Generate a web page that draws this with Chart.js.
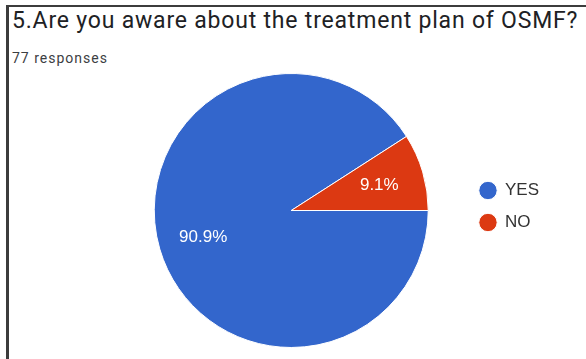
<!DOCTYPE html>
<html>
<head>
	<meta charset="UTF-8">
	<title>Treatment plan awareness</title>
	<script src="https://cdn.jsdelivr.net/npm/chart.js"></script>
	<style>
	html, body{margin:0; padding:0; background:#fff;}
	body{width:586px; height:359px; position:relative; overflow:hidden;}
	#frame{position:absolute; left:6px; top:5px; width:600px; height:400px;
		border-left:3px solid #3c3c3c; border-top:2px solid #3c3c3c;}
	#title{position:absolute; left:12px; top:9px; font-family:Roboto, Arial, sans-serif;
		font-size:23px; line-height:23px; letter-spacing:0.8px; color:#202124; white-space:nowrap;}
	#sub{position:absolute; left:12px; top:51px; font-family:Roboto, Arial, sans-serif;
		font-size:14px; line-height:14px; letter-spacing:1px; color:#3c4043; white-space:nowrap;}
	#box{position:absolute; left:0; top:0; width:586px; height:359px;}
	</style>
</head>
<body>
	<div id="frame"></div>
	<div id="title">5.Are you aware about the treatment plan of OSMF?</div>
	<div id="sub">77 responses</div>
	<div id="box">
		<canvas id="myChart"></canvas>
	</div>
	<script>
	// answers and how many people gave them
	const answers = ['YES', 'NO'];
	const counts = [70, 7];
	const sliceColors = ['#3366cc', '#dc3912'];

	// percent text inside each slice
	const sliceLabels = {
		id: 'sliceLabels',
		afterLayout(chart){
			// lift the legend a little above the pie's middle
			chart.legend.top -= 4;
			chart.legend.bottom -= 4;
		},
		afterDatasetsDraw(chart){
			const ctx = chart.ctx;
			const data = chart.data.datasets[0].data;
			const total = data.reduce((a, b) => a + b, 0);
			const meta = chart.getDatasetMeta(0);
			ctx.save();
			ctx.fillStyle = '#fff';
			ctx.font = '17px Arial, "Liberation Sans", sans-serif';
			ctx.textAlign = 'center';
			ctx.textBaseline = 'middle';
			meta.data.forEach(function(arc, i){
				const p = arc.getProps(['x', 'y', 'startAngle', 'endAngle', 'outerRadius'], true);
				const mid = (p.startAngle + p.endAngle) / 2;
				const r = p.outerRadius * 0.67;
				const pct = (data[i] / total * 100).toFixed(1) + '%';
				ctx.fillText(pct, p.x + Math.cos(mid) * r, p.y + Math.sin(mid) * r + 1);
			});
			ctx.restore();
		}
	};

	const ctx = document.getElementById('myChart');
	new Chart(ctx, {
		type: 'pie',
		data: {
			labels: answers,
			datasets: [{
				data: counts,
				backgroundColor: sliceColors,
				borderColor: '#fff',
				borderWidth: 1
			}]
		},
		options: {
			responsive: true,
			maintainAspectRatio: false,
			animation: false,
			rotation: 90,
			layout: {
				padding: {left: 118, right: 37, top: 73, bottom: 11}
			},
			plugins: {
				tooltip: {enabled: false},
				legend: {
					position: 'right',
					labels: {
						usePointStyle: true,
						pointStyle: 'circle',
						boxHeight: 13,
						padding: 15,
						color: '#333',
						font: {family: 'Arial, "Liberation Sans", sans-serif', size: 17}
					}
				}
			}
		},
		plugins: [sliceLabels]
	});
	</script>
</body>
</html>
